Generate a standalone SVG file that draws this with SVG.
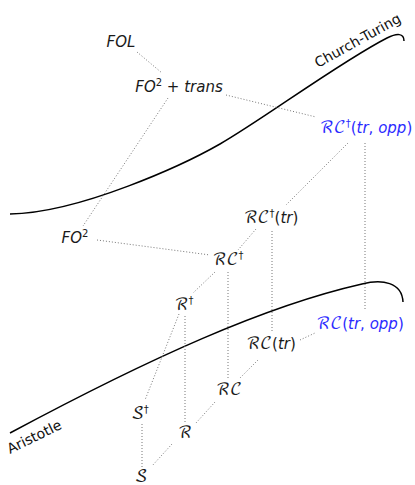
<svg xmlns="http://www.w3.org/2000/svg" width="415" height="485" viewBox="0 0 415 485">
<style>
.n{font-family:"DejaVu Sans",sans-serif;font-size:15px;font-style:italic;fill:#1a1a1a;text-anchor:middle}
.b{fill:#2b2bff}
.u{font-style:normal}
.s{font-family:"DejaVu Math TeX Gyre","Noto Sans Math","DejaVu Sans",serif;font-style:normal;font-size:16.5px}
.sup{font-size:10px;font-style:normal}
.lbl{font-family:"DejaVu Sans",sans-serif;font-size:14px;fill:#111}
.c{fill:none;stroke:#000;stroke-width:1.5}
.d{fill:none;stroke:#777;stroke-width:1;stroke-dasharray:1 2}
</style>
<g id="curves">
<path id="church-turing-curve" class="c" d="M10,214 C80,213 185,164 220,144 C262,120 340,62 387,38 C397,33 404,33 404,41"/>
<path id="aristotle-curve" class="c" d="M10,433 C150,358 265,306 362,284 C382,279 402,282 403,302"/>
<text class="lbl" transform="translate(318,68) rotate(-29)">Church-Turing</text>
<text class="lbl" transform="translate(10,454) rotate(-26)">Aristotle</text>
</g>
<g id="connectors">
<line class="d" x1="137" y1="52" x2="162" y2="73"/>
<line class="d" x1="226" y1="95" x2="316" y2="117"/>
<line class="d" x1="168" y1="98" x2="83" y2="226"/>
<line class="d" x1="97" y1="240" x2="210" y2="255"/>
<line class="d" x1="348" y1="143" x2="286" y2="205"/>
<line class="d" x1="365" y1="143" x2="365" y2="309"/>
<line class="d" x1="256" y1="229" x2="238" y2="250"/>
<line class="d" x1="272" y1="231" x2="272" y2="333"/>
<line class="d" x1="215" y1="272" x2="193" y2="293"/>
<line class="d" x1="228" y1="272" x2="228" y2="378"/>
<line class="d" x1="300" y1="340" x2="315" y2="333"/>
<line class="d" x1="258" y1="360" x2="240" y2="378"/>
<line class="d" x1="179" y1="314" x2="145" y2="400"/>
<line class="d" x1="185" y1="316" x2="185" y2="422"/>
<line class="d" x1="215" y1="402" x2="196" y2="423"/>
<line class="d" x1="142" y1="424" x2="142" y2="467"/>
<line class="d" x1="172" y1="444" x2="152" y2="466"/>
</g>
<g id="FOL"><text class="n" x="121" y="47">FOL</text></g>
<g id="FO2trans"><text class="n" x="179" y="92">FO<tspan class="sup" dy="-6">2</tspan><tspan class="u" dy="6"> + </tspan>trans</text></g>
<g id="RCdag-tr-opp"><text class="n b" x="366" y="133"><tspan class="s">ℛ𝒞</tspan><tspan class="sup" dy="-6">†</tspan><tspan class="u" dy="6">(</tspan>tr<tspan class="u">, </tspan>opp<tspan class="u">)</tspan></text></g>
<g id="FO2"><text class="n" x="75" y="243">FO<tspan class="sup" dy="-6">2</tspan></text></g>
<g id="RCdag-tr"><text class="n" x="271" y="223"><tspan class="s">ℛ𝒞</tspan><tspan class="sup" dy="-6">†</tspan><tspan class="u" dy="6">(</tspan>tr<tspan class="u">)</tspan></text></g>
<g id="RCdag"><text class="n" x="228" y="265"><tspan class="s">ℛ𝒞</tspan><tspan class="sup" dy="-6">†</tspan></text></g>
<g id="Rdag"><text class="n" x="184" y="310"><tspan class="s">ℛ</tspan><tspan class="sup" dy="-6">†</tspan></text></g>
<g id="RC-tr-opp"><text class="n b" x="360" y="329"><tspan class="s">ℛ𝒞</tspan><tspan class="u">(</tspan>tr<tspan class="u">, </tspan>opp<tspan class="u">)</tspan></text></g>
<g id="RC-tr"><text class="n" x="271" y="349"><tspan class="s">ℛ𝒞</tspan><tspan class="u">(</tspan>tr<tspan class="u">)</tspan></text></g>
<g id="RC"><text class="n" x="229" y="395"><tspan class="s">ℛ𝒞</tspan></text></g>
<g id="Sdag"><text class="n" x="140" y="419"><tspan class="s">𝒮</tspan><tspan class="sup" dy="-6">†</tspan></text></g>
<g id="R"><text class="n" x="185" y="438"><tspan class="s">ℛ</tspan></text></g>
<g id="S"><text class="n" x="141" y="482"><tspan class="s">𝒮</tspan></text></g>
</svg>
